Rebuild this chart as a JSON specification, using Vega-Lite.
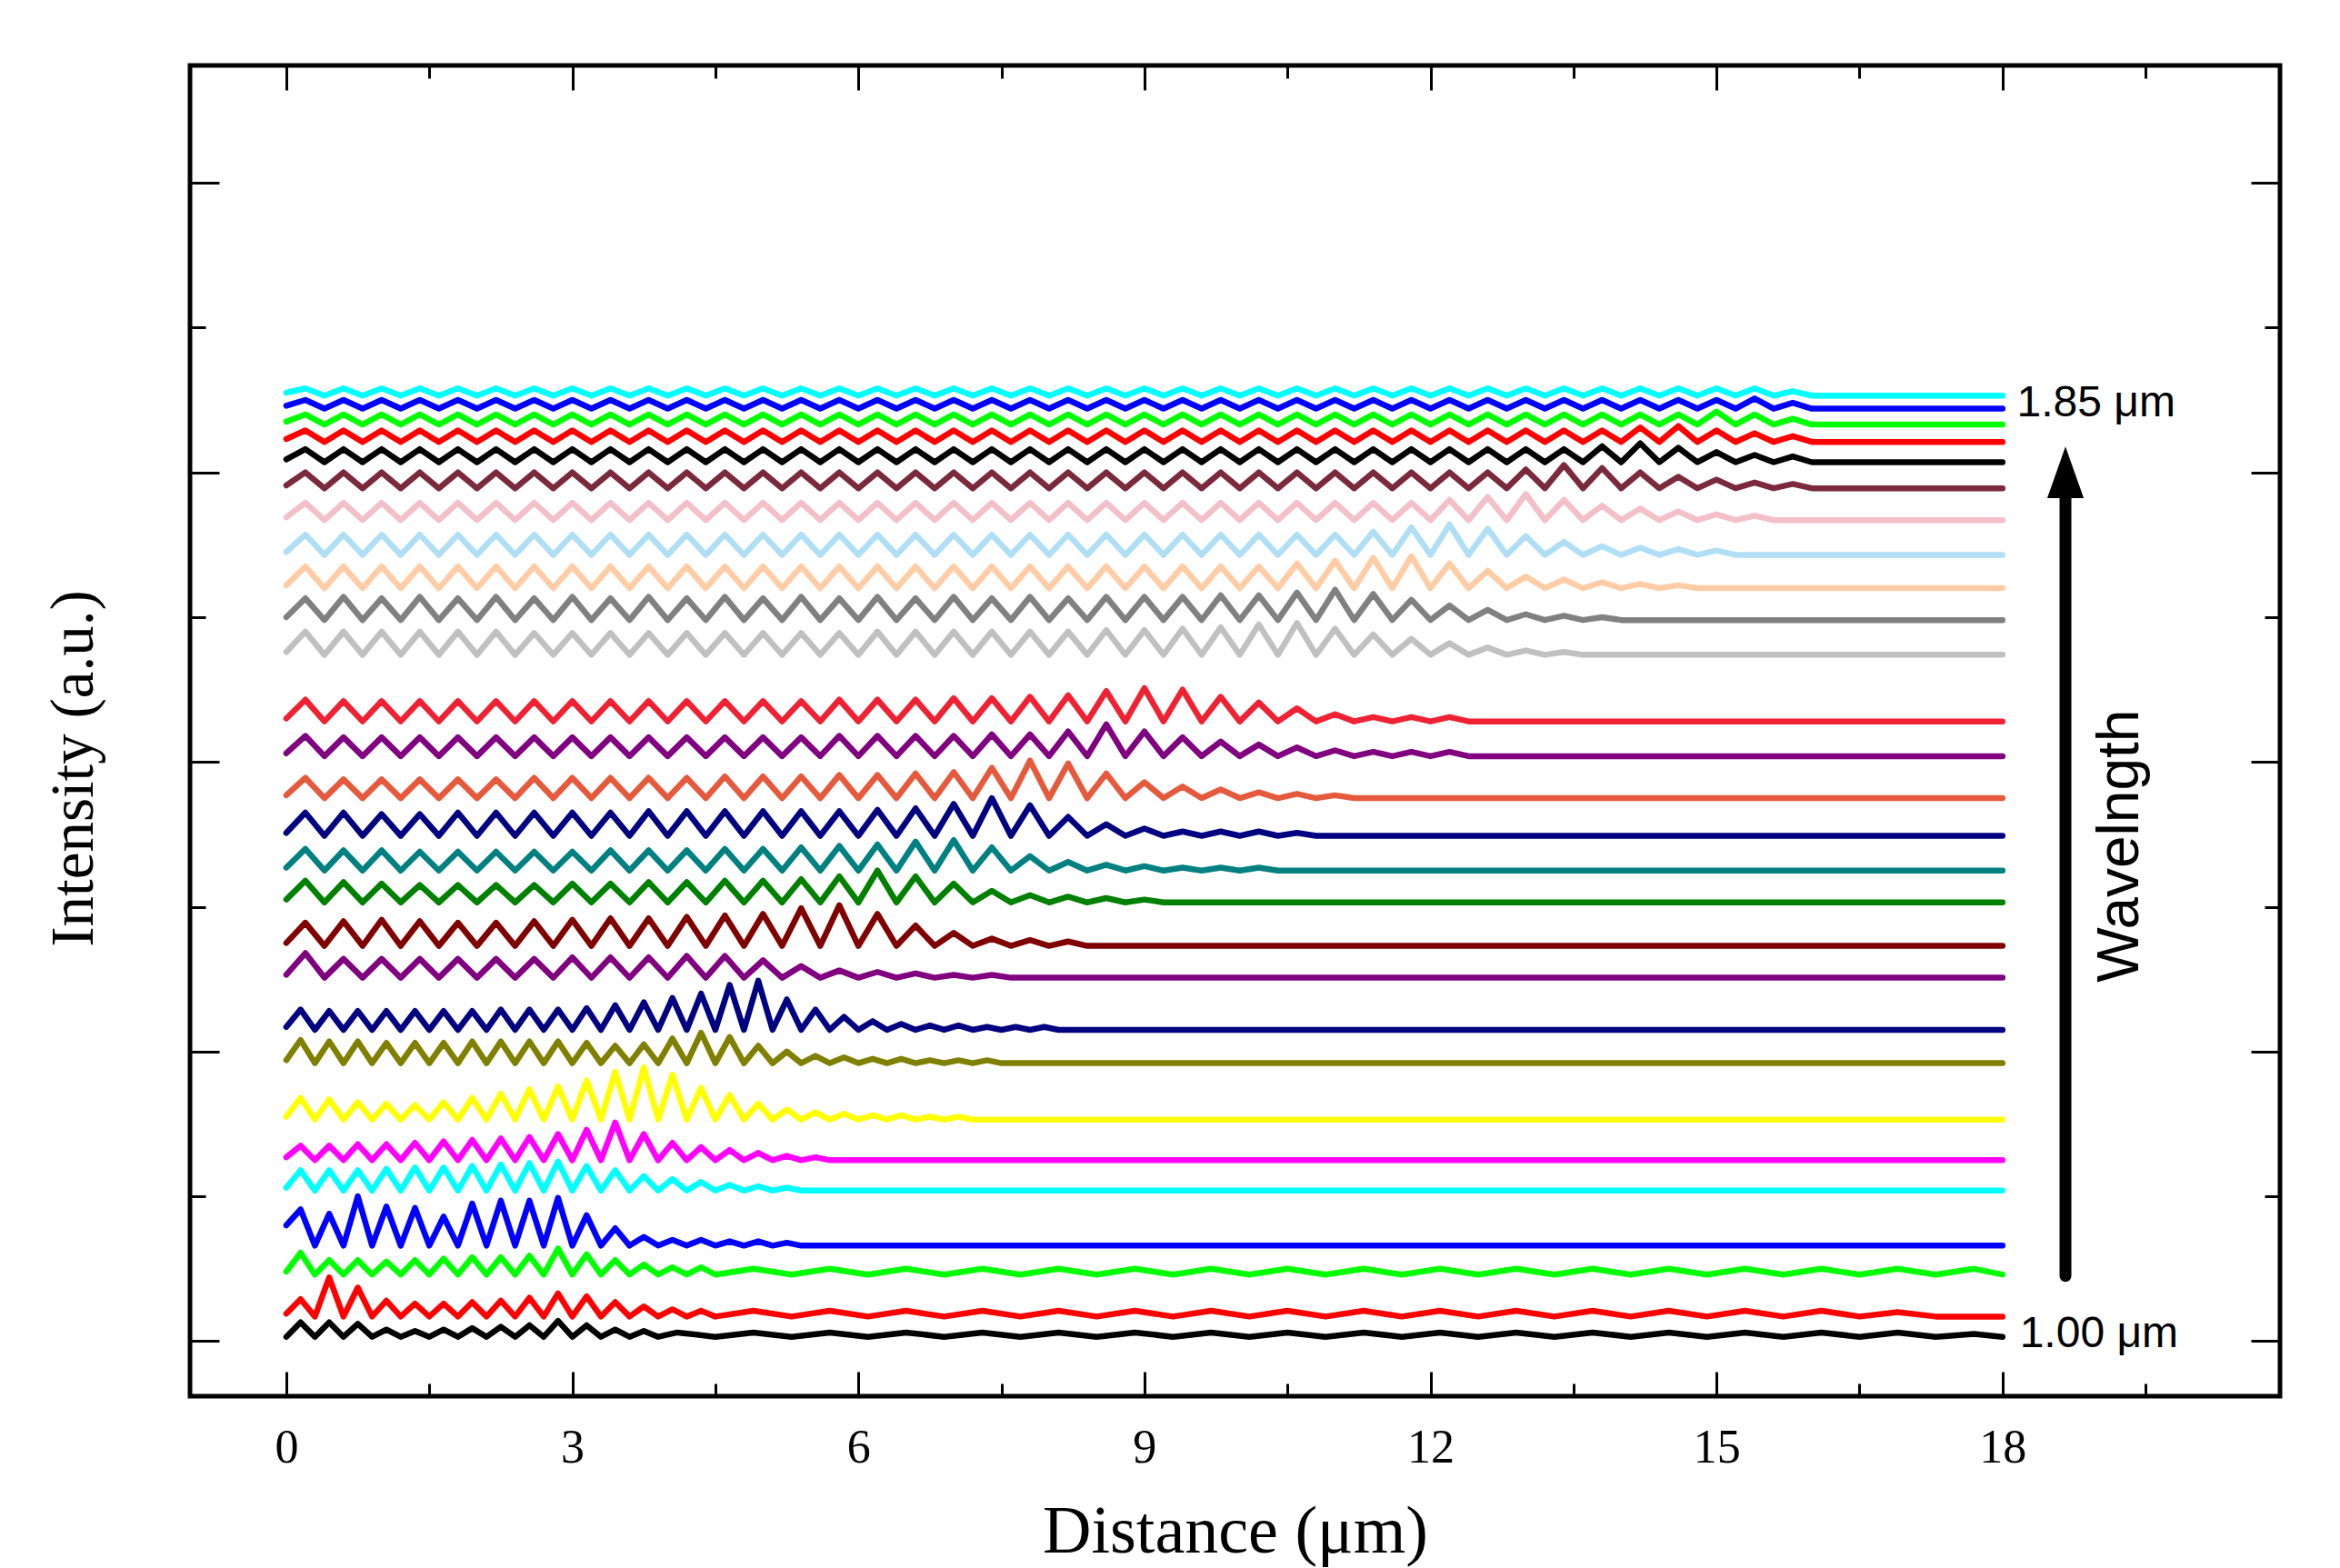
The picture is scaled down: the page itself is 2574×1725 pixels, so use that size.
{"$schema":"https://vega.github.io/schema/vega-lite/v6.json",
"width":2299,"height":1464,"autosize":{"type":"none"},"padding":{"left":209,"top":72,"right":66,"bottom":189},"background":"white",
"config":{"view":{"stroke":"black","strokeWidth":5},"axis":{"domain":false,"grid":false,"tickColor":"black","tickWidth":3,"labelFlush":false},"line":{"strokeWidth":6.5,"strokeJoin":"round","strokeCap":"round"}},
"encoding":{"x":{"field":"x","type":"quantitative","scale":{"domain":[-1.01,20.91],"nice":false,"zero":false},"axis":null},"y":{"field":"y","type":"quantitative","scale":{"domain":[-38,881],"nice":false,"zero":false},"axis":null}},
"resolve":{"axis":{"x":"independent","y":"independent"}},
"layer":[
{"data":{"values":[{"x":0,"y":3},{"x":0.15,"y":13},{"x":0.3,"y":3},{"x":0.45,"y":13},{"x":0.6,"y":3},{"x":0.75,"y":12},{"x":0.9,"y":3},{"x":1.05,"y":8},{"x":1.2,"y":3},{"x":1.35,"y":7},{"x":1.5,"y":3},{"x":1.65,"y":8},{"x":1.8,"y":3},{"x":1.95,"y":9},{"x":2.1,"y":3},{"x":2.25,"y":10},{"x":2.4,"y":3},{"x":2.55,"y":11},{"x":2.7,"y":3},{"x":2.85,"y":14},{"x":3,"y":3},{"x":3.15,"y":11},{"x":3.3,"y":3},{"x":3.45,"y":8},{"x":3.6,"y":3},{"x":3.75,"y":7},{"x":3.9,"y":3},{"x":4.1,"y":6},{"x":4.5,"y":3},{"x":4.9,"y":6},{"x":5.3,"y":3},{"x":5.7,"y":6},{"x":6.1,"y":3},{"x":6.5,"y":6},{"x":6.9,"y":3},{"x":7.3,"y":6},{"x":7.7,"y":3},{"x":8.1,"y":6},{"x":8.5,"y":3},{"x":8.9,"y":6},{"x":9.3,"y":3},{"x":9.7,"y":6},{"x":10.1,"y":3},{"x":10.5,"y":6},{"x":10.9,"y":3},{"x":11.3,"y":6},{"x":11.7,"y":3},{"x":12.1,"y":6},{"x":12.5,"y":3},{"x":12.9,"y":6},{"x":13.3,"y":3},{"x":13.7,"y":6},{"x":14.1,"y":3},{"x":14.5,"y":6},{"x":14.9,"y":3},{"x":15.3,"y":6},{"x":15.7,"y":3},{"x":16.1,"y":6},{"x":16.5,"y":3},{"x":16.9,"y":6},{"x":17.3,"y":3},{"x":17.7,"y":5},{"x":18,"y":3}]},
"mark":{"type":"line","color":"#000000"},
"encoding":{"x":{"field":"x","type":"quantitative","scale":{"domain":[-1.01,20.91],"nice":false,"zero":false},"axis":{"orient":"bottom","values":[0,3,6,9,12,15,18],"tickSize":-27,"labelPadding":58,"labelFont":"Liberation Serif","labelFontSize":52,"labelColor":"black","title":"Distance (μm)","titleFont":"Liberation Serif","titleFontSize":74,"titleFontWeight":"normal","titleColor":"black","titleY":171,"titleBaseline":"alphabetic"}},"y":{"field":"y","type":"quantitative","scale":{"domain":[-38,881],"nice":false,"zero":false},"axis":{"orient":"left","values":[0,200,400,600,800],"tickSize":-32,"labels":false,"title":"Intensity (a.u.)","titleFont":"Liberation Serif","titleFontSize":67,"titleFontWeight":"normal","titleColor":"black","titleX":-108,"titleY":773,"titleAngle":270,"titleAlign":"center","titleBaseline":"alphabetic"}}}},
{"data":{"values":[{"x":0,"y":19},{"x":0.15,"y":29},{"x":0.3,"y":17},{"x":0.45,"y":44},{"x":0.6,"y":17},{"x":0.75,"y":37},{"x":0.9,"y":17},{"x":1.05,"y":28},{"x":1.2,"y":17},{"x":1.35,"y":26},{"x":1.5,"y":17},{"x":1.65,"y":26},{"x":1.8,"y":17},{"x":1.95,"y":27},{"x":2.1,"y":17},{"x":2.25,"y":28},{"x":2.4,"y":17},{"x":2.55,"y":30},{"x":2.7,"y":17},{"x":2.85,"y":33},{"x":3,"y":17},{"x":3.15,"y":31},{"x":3.3,"y":17},{"x":3.45,"y":27},{"x":3.6,"y":17},{"x":3.75,"y":24},{"x":3.9,"y":17},{"x":4.05,"y":22},{"x":4.2,"y":17},{"x":4.35,"y":21},{"x":4.5,"y":17},{"x":4.9,"y":21},{"x":5.3,"y":17},{"x":5.7,"y":21},{"x":6.1,"y":17},{"x":6.5,"y":21},{"x":6.9,"y":17},{"x":7.3,"y":21},{"x":7.7,"y":17},{"x":8.1,"y":21},{"x":8.5,"y":17},{"x":8.9,"y":21},{"x":9.3,"y":17},{"x":9.7,"y":21},{"x":10.1,"y":17},{"x":10.5,"y":21},{"x":10.9,"y":17},{"x":11.3,"y":21},{"x":11.7,"y":17},{"x":12.1,"y":21},{"x":12.5,"y":17},{"x":12.9,"y":21},{"x":13.3,"y":17},{"x":13.7,"y":21},{"x":14.1,"y":17},{"x":14.5,"y":21},{"x":14.9,"y":17},{"x":15.3,"y":21},{"x":15.7,"y":17},{"x":16.1,"y":21},{"x":16.5,"y":17},{"x":16.9,"y":20},{"x":17.3,"y":17},{"x":18,"y":17}]},
"mark":{"type":"line","color":"#ff0000"},
"encoding":{"x":{"field":"x","type":"quantitative","scale":{"domain":[-1.01,20.91],"nice":false,"zero":false},"axis":{"orient":"bottom","values":[1.5,4.5,7.5,10.5,13.5,16.5,19.5],"tickSize":-14,"labels":false,"title":null}},"y":{"field":"y","type":"quantitative","scale":{"domain":[-38,881],"nice":false,"zero":false},"axis":{"orient":"left","values":[100,300,500,700],"tickSize":-17,"labels":false,"title":null}}}},
{"data":{"values":[{"x":0,"y":48},{"x":0.15,"y":61},{"x":0.3,"y":46},{"x":0.45,"y":56},{"x":0.6,"y":46},{"x":0.75,"y":56},{"x":0.9,"y":46},{"x":1.05,"y":55},{"x":1.2,"y":46},{"x":1.35,"y":56},{"x":1.5,"y":46},{"x":1.65,"y":57},{"x":1.8,"y":46},{"x":1.95,"y":58},{"x":2.1,"y":46},{"x":2.25,"y":58},{"x":2.4,"y":46},{"x":2.55,"y":59},{"x":2.7,"y":46},{"x":2.85,"y":64},{"x":3,"y":46},{"x":3.15,"y":60},{"x":3.3,"y":46},{"x":3.45,"y":56},{"x":3.6,"y":46},{"x":3.75,"y":53},{"x":3.9,"y":46},{"x":4.05,"y":51},{"x":4.2,"y":46},{"x":4.35,"y":51},{"x":4.5,"y":46},{"x":4.9,"y":50},{"x":5.3,"y":46},{"x":5.7,"y":50},{"x":6.1,"y":46},{"x":6.5,"y":50},{"x":6.9,"y":46},{"x":7.3,"y":50},{"x":7.7,"y":46},{"x":8.1,"y":50},{"x":8.5,"y":46},{"x":8.9,"y":50},{"x":9.3,"y":46},{"x":9.7,"y":50},{"x":10.1,"y":46},{"x":10.5,"y":50},{"x":10.9,"y":46},{"x":11.3,"y":50},{"x":11.7,"y":46},{"x":12.1,"y":50},{"x":12.5,"y":46},{"x":12.9,"y":50},{"x":13.3,"y":46},{"x":13.7,"y":50},{"x":14.1,"y":46},{"x":14.5,"y":50},{"x":14.9,"y":46},{"x":15.3,"y":50},{"x":15.7,"y":46},{"x":16.1,"y":50},{"x":16.5,"y":46},{"x":16.9,"y":50},{"x":17.3,"y":46},{"x":17.7,"y":50},{"x":18,"y":46}]},
"mark":{"type":"line","color":"#00ff00"},
"encoding":{"x":{"field":"x","type":"quantitative","scale":{"domain":[-1.01,20.91],"nice":false,"zero":false},"axis":{"orient":"top","values":[0,3,6,9,12,15,18],"tickSize":-27,"labels":false,"title":null}},"y":{"field":"y","type":"quantitative","scale":{"domain":[-38,881],"nice":false,"zero":false},"axis":{"orient":"right","values":[0,200,400,600,800],"tickSize":-32,"labels":false,"title":null}}}},
{"data":{"values":[{"x":0,"y":80},{"x":0.15,"y":91},{"x":0.3,"y":66},{"x":0.45,"y":88},{"x":0.6,"y":66},{"x":0.75,"y":100},{"x":0.9,"y":66},{"x":1.05,"y":93},{"x":1.2,"y":66},{"x":1.35,"y":92},{"x":1.5,"y":66},{"x":1.65,"y":86},{"x":1.8,"y":66},{"x":1.95,"y":95},{"x":2.1,"y":66},{"x":2.25,"y":97},{"x":2.4,"y":66},{"x":2.55,"y":97},{"x":2.7,"y":66},{"x":2.85,"y":99},{"x":3,"y":66},{"x":3.15,"y":87},{"x":3.3,"y":66},{"x":3.45,"y":78},{"x":3.6,"y":66},{"x":3.75,"y":72},{"x":3.9,"y":66},{"x":4.05,"y":70},{"x":4.2,"y":66},{"x":4.35,"y":70},{"x":4.5,"y":66},{"x":4.65,"y":69},{"x":4.8,"y":66},{"x":4.95,"y":69},{"x":5.1,"y":66},{"x":5.25,"y":68},{"x":5.4,"y":66},{"x":18,"y":66}]},
"mark":{"type":"line","color":"#0000ff"},
"encoding":{"x":{"field":"x","type":"quantitative","scale":{"domain":[-1.01,20.91],"nice":false,"zero":false},"axis":{"orient":"top","values":[1.5,4.5,7.5,10.5,13.5,16.5,19.5],"tickSize":-14,"labels":false,"title":null}},"y":{"field":"y","type":"quantitative","scale":{"domain":[-38,881],"nice":false,"zero":false},"axis":{"orient":"right","values":[100,300,500,700],"tickSize":-17,"labels":false,"title":null}}}},
{"data":{"values":[{"x":0,"y":106},{"x":0.15,"y":118},{"x":0.3,"y":104},{"x":0.45,"y":118},{"x":0.6,"y":104},{"x":0.75,"y":118},{"x":0.9,"y":104},{"x":1.05,"y":119},{"x":1.2,"y":104},{"x":1.35,"y":120},{"x":1.5,"y":104},{"x":1.65,"y":120},{"x":1.8,"y":104},{"x":1.95,"y":121},{"x":2.1,"y":104},{"x":2.25,"y":122},{"x":2.4,"y":104},{"x":2.55,"y":123},{"x":2.7,"y":104},{"x":2.85,"y":124},{"x":3,"y":104},{"x":3.15,"y":121},{"x":3.3,"y":104},{"x":3.45,"y":118},{"x":3.6,"y":104},{"x":3.75,"y":114},{"x":3.9,"y":104},{"x":4.05,"y":112},{"x":4.2,"y":104},{"x":4.35,"y":110},{"x":4.5,"y":104},{"x":4.65,"y":108},{"x":4.8,"y":104},{"x":4.95,"y":107},{"x":5.1,"y":104},{"x":5.25,"y":106},{"x":5.4,"y":104},{"x":18,"y":104}]},"mark":{"type":"line","color":"#00ffff"}},
{"data":{"values":[{"x":0,"y":127},{"x":0.15,"y":135},{"x":0.3,"y":125},{"x":0.45,"y":135},{"x":0.6,"y":125},{"x":0.75,"y":136},{"x":0.9,"y":125},{"x":1.05,"y":136},{"x":1.2,"y":125},{"x":1.35,"y":137},{"x":1.5,"y":125},{"x":1.65,"y":138},{"x":1.8,"y":125},{"x":1.95,"y":139},{"x":2.1,"y":125},{"x":2.25,"y":140},{"x":2.4,"y":125},{"x":2.55,"y":141},{"x":2.7,"y":125},{"x":2.85,"y":143},{"x":3,"y":125},{"x":3.15,"y":146},{"x":3.3,"y":125},{"x":3.45,"y":151},{"x":3.6,"y":125},{"x":3.75,"y":143},{"x":3.9,"y":125},{"x":4.05,"y":137},{"x":4.2,"y":125},{"x":4.35,"y":134},{"x":4.5,"y":125},{"x":4.65,"y":132},{"x":4.8,"y":125},{"x":4.95,"y":130},{"x":5.1,"y":125},{"x":5.25,"y":128},{"x":5.4,"y":125},{"x":5.55,"y":127},{"x":5.7,"y":125},{"x":18,"y":125}]},"mark":{"type":"line","color":"#ff00ff"}},
{"data":{"values":[{"x":0,"y":155},{"x":0.15,"y":168},{"x":0.3,"y":153},{"x":0.45,"y":167},{"x":0.6,"y":153},{"x":0.75,"y":165},{"x":0.9,"y":153},{"x":1.05,"y":164},{"x":1.2,"y":153},{"x":1.35,"y":163},{"x":1.5,"y":153},{"x":1.65,"y":165},{"x":1.8,"y":153},{"x":1.95,"y":168},{"x":2.1,"y":153},{"x":2.25,"y":171},{"x":2.4,"y":153},{"x":2.55,"y":174},{"x":2.7,"y":153},{"x":2.85,"y":176},{"x":3,"y":153},{"x":3.15,"y":180},{"x":3.3,"y":153},{"x":3.45,"y":186},{"x":3.6,"y":153},{"x":3.75,"y":189},{"x":3.9,"y":153},{"x":4.05,"y":184},{"x":4.2,"y":153},{"x":4.35,"y":175},{"x":4.5,"y":153},{"x":4.65,"y":170},{"x":4.8,"y":153},{"x":4.95,"y":164},{"x":5.1,"y":153},{"x":5.25,"y":160},{"x":5.4,"y":153},{"x":5.55,"y":158},{"x":5.7,"y":153},{"x":5.85,"y":157},{"x":6,"y":153},{"x":6.15,"y":156},{"x":6.3,"y":153},{"x":6.45,"y":156},{"x":6.6,"y":153},{"x":6.75,"y":155},{"x":6.9,"y":153},{"x":7.05,"y":155},{"x":7.2,"y":153},{"x":18,"y":153}]},"mark":{"type":"line","color":"#ffff00"}},
{"data":{"values":[{"x":0,"y":194},{"x":0.15,"y":208},{"x":0.3,"y":192},{"x":0.45,"y":207},{"x":0.6,"y":192},{"x":0.75,"y":207},{"x":0.9,"y":192},{"x":1.05,"y":206},{"x":1.2,"y":192},{"x":1.35,"y":206},{"x":1.5,"y":192},{"x":1.65,"y":206},{"x":1.8,"y":192},{"x":1.95,"y":207},{"x":2.1,"y":192},{"x":2.25,"y":207},{"x":2.4,"y":192},{"x":2.55,"y":207},{"x":2.7,"y":192},{"x":2.85,"y":207},{"x":3,"y":192},{"x":3.15,"y":206},{"x":3.3,"y":192},{"x":3.45,"y":204},{"x":3.6,"y":192},{"x":3.75,"y":205},{"x":3.9,"y":192},{"x":4.05,"y":209},{"x":4.2,"y":192},{"x":4.35,"y":213},{"x":4.5,"y":192},{"x":4.65,"y":210},{"x":4.8,"y":192},{"x":4.95,"y":204},{"x":5.1,"y":192},{"x":5.25,"y":200},{"x":5.4,"y":192},{"x":5.55,"y":197},{"x":5.7,"y":192},{"x":5.85,"y":196},{"x":6,"y":192},{"x":6.15,"y":195},{"x":6.3,"y":192},{"x":6.45,"y":195},{"x":6.6,"y":192},{"x":6.75,"y":194},{"x":6.9,"y":192},{"x":7.05,"y":194},{"x":7.2,"y":192},{"x":7.35,"y":194},{"x":7.5,"y":192},{"x":18,"y":192}]},"mark":{"type":"line","color":"#808000"}},
{"data":{"values":[{"x":0,"y":217},{"x":0.15,"y":229},{"x":0.3,"y":215},{"x":0.45,"y":228},{"x":0.6,"y":215},{"x":0.75,"y":228},{"x":0.9,"y":215},{"x":1.05,"y":228},{"x":1.2,"y":215},{"x":1.35,"y":228},{"x":1.5,"y":215},{"x":1.65,"y":228},{"x":1.8,"y":215},{"x":1.95,"y":228},{"x":2.1,"y":215},{"x":2.25,"y":229},{"x":2.4,"y":215},{"x":2.55,"y":229},{"x":2.7,"y":215},{"x":2.85,"y":229},{"x":3,"y":215},{"x":3.15,"y":230},{"x":3.3,"y":215},{"x":3.45,"y":232},{"x":3.6,"y":215},{"x":3.75,"y":234},{"x":3.9,"y":215},{"x":4.05,"y":237},{"x":4.2,"y":215},{"x":4.35,"y":240},{"x":4.5,"y":215},{"x":4.65,"y":246},{"x":4.8,"y":215},{"x":4.95,"y":249},{"x":5.1,"y":215},{"x":5.25,"y":236},{"x":5.4,"y":215},{"x":5.55,"y":229},{"x":5.7,"y":215},{"x":5.85,"y":224},{"x":6,"y":215},{"x":6.15,"y":221},{"x":6.3,"y":215},{"x":6.45,"y":219},{"x":6.6,"y":215},{"x":6.75,"y":218},{"x":6.9,"y":215},{"x":7.05,"y":218},{"x":7.2,"y":215},{"x":7.35,"y":217},{"x":7.5,"y":215},{"x":7.65,"y":217},{"x":7.8,"y":215},{"x":7.95,"y":217},{"x":8.1,"y":215},{"x":18,"y":215}]},"mark":{"type":"line","color":"#000080"}},
{"data":{"values":[{"x":0,"y":253},{"x":0.2,"y":268},{"x":0.4,"y":251},{"x":0.6,"y":264},{"x":0.8,"y":251},{"x":1,"y":264},{"x":1.2,"y":251},{"x":1.4,"y":264},{"x":1.6,"y":251},{"x":1.8,"y":264},{"x":2,"y":251},{"x":2.2,"y":264},{"x":2.4,"y":251},{"x":2.6,"y":264},{"x":2.8,"y":251},{"x":3,"y":265},{"x":3.2,"y":251},{"x":3.4,"y":265},{"x":3.6,"y":251},{"x":3.8,"y":265},{"x":4,"y":251},{"x":4.2,"y":266},{"x":4.4,"y":251},{"x":4.6,"y":266},{"x":4.8,"y":251},{"x":5,"y":263},{"x":5.2,"y":251},{"x":5.4,"y":259},{"x":5.6,"y":251},{"x":5.8,"y":256},{"x":6,"y":251},{"x":6.2,"y":255},{"x":6.4,"y":251},{"x":6.6,"y":254},{"x":6.8,"y":251},{"x":7,"y":253},{"x":7.2,"y":251},{"x":7.4,"y":253},{"x":7.6,"y":251},{"x":18,"y":251}]},"mark":{"type":"line","color":"#800080"}},
{"data":{"values":[{"x":0,"y":275},{"x":0.2,"y":289},{"x":0.4,"y":273},{"x":0.6,"y":290},{"x":0.8,"y":273},{"x":1,"y":291},{"x":1.2,"y":273},{"x":1.4,"y":290},{"x":1.6,"y":273},{"x":1.8,"y":289},{"x":2,"y":273},{"x":2.2,"y":289},{"x":2.4,"y":273},{"x":2.6,"y":290},{"x":2.8,"y":273},{"x":3,"y":291},{"x":3.2,"y":273},{"x":3.4,"y":292},{"x":3.6,"y":273},{"x":3.8,"y":292},{"x":4,"y":273},{"x":4.2,"y":293},{"x":4.4,"y":273},{"x":4.6,"y":294},{"x":4.8,"y":273},{"x":5,"y":295},{"x":5.2,"y":273},{"x":5.4,"y":299},{"x":5.6,"y":273},{"x":5.8,"y":301},{"x":6,"y":273},{"x":6.2,"y":295},{"x":6.4,"y":273},{"x":6.6,"y":287},{"x":6.8,"y":273},{"x":7,"y":282},{"x":7.2,"y":273},{"x":7.4,"y":278},{"x":7.6,"y":273},{"x":7.8,"y":277},{"x":8,"y":273},{"x":8.2,"y":276},{"x":8.4,"y":273},{"x":18,"y":273}]},"mark":{"type":"line","color":"#800000"}},
{"data":{"values":[{"x":0,"y":305},{"x":0.2,"y":318},{"x":0.4,"y":303},{"x":0.6,"y":317},{"x":0.8,"y":303},{"x":1,"y":316},{"x":1.2,"y":303},{"x":1.4,"y":315},{"x":1.6,"y":303},{"x":1.8,"y":315},{"x":2,"y":303},{"x":2.2,"y":315},{"x":2.4,"y":303},{"x":2.6,"y":315},{"x":2.8,"y":303},{"x":3,"y":316},{"x":3.2,"y":303},{"x":3.4,"y":316},{"x":3.6,"y":303},{"x":3.8,"y":317},{"x":4,"y":303},{"x":4.2,"y":317},{"x":4.4,"y":303},{"x":4.6,"y":318},{"x":4.8,"y":303},{"x":5,"y":318},{"x":5.2,"y":303},{"x":5.4,"y":319},{"x":5.6,"y":303},{"x":5.8,"y":321},{"x":6,"y":303},{"x":6.2,"y":325},{"x":6.4,"y":303},{"x":6.6,"y":321},{"x":6.8,"y":303},{"x":7,"y":316},{"x":7.2,"y":303},{"x":7.4,"y":311},{"x":7.6,"y":303},{"x":7.8,"y":308},{"x":8,"y":303},{"x":8.2,"y":307},{"x":8.4,"y":303},{"x":8.6,"y":306},{"x":8.8,"y":303},{"x":9,"y":305},{"x":9.2,"y":303},{"x":18,"y":303}]},"mark":{"type":"line","color":"#008000"}},
{"data":{"values":[{"x":0,"y":327},{"x":0.2,"y":340},{"x":0.4,"y":325},{"x":0.6,"y":339},{"x":0.8,"y":325},{"x":1,"y":339},{"x":1.2,"y":325},{"x":1.4,"y":338},{"x":1.6,"y":325},{"x":1.8,"y":338},{"x":2,"y":325},{"x":2.2,"y":338},{"x":2.4,"y":325},{"x":2.6,"y":338},{"x":2.8,"y":325},{"x":3,"y":338},{"x":3.2,"y":325},{"x":3.4,"y":339},{"x":3.6,"y":325},{"x":3.8,"y":339},{"x":4,"y":325},{"x":4.2,"y":339},{"x":4.4,"y":325},{"x":4.6,"y":340},{"x":4.8,"y":325},{"x":5,"y":340},{"x":5.2,"y":325},{"x":5.4,"y":341},{"x":5.6,"y":325},{"x":5.8,"y":342},{"x":6,"y":325},{"x":6.2,"y":343},{"x":6.4,"y":325},{"x":6.6,"y":345},{"x":6.8,"y":325},{"x":7,"y":346},{"x":7.2,"y":325},{"x":7.4,"y":341},{"x":7.6,"y":325},{"x":7.8,"y":335},{"x":8,"y":325},{"x":8.2,"y":331},{"x":8.4,"y":325},{"x":8.6,"y":329},{"x":8.8,"y":325},{"x":9,"y":328},{"x":9.2,"y":325},{"x":9.4,"y":327},{"x":9.6,"y":325},{"x":9.8,"y":327},{"x":10,"y":325},{"x":10.2,"y":327},{"x":10.4,"y":325},{"x":18,"y":325}]},"mark":{"type":"line","color":"#008080"}},
{"data":{"values":[{"x":0,"y":351},{"x":0.2,"y":365},{"x":0.4,"y":349},{"x":0.6,"y":365},{"x":0.8,"y":349},{"x":1,"y":364},{"x":1.2,"y":349},{"x":1.4,"y":364},{"x":1.6,"y":349},{"x":1.8,"y":365},{"x":2,"y":349},{"x":2.2,"y":365},{"x":2.4,"y":349},{"x":2.6,"y":365},{"x":2.8,"y":349},{"x":3,"y":365},{"x":3.2,"y":349},{"x":3.4,"y":365},{"x":3.6,"y":349},{"x":3.8,"y":366},{"x":4,"y":349},{"x":4.2,"y":366},{"x":4.4,"y":349},{"x":4.6,"y":366},{"x":4.8,"y":349},{"x":5,"y":366},{"x":5.2,"y":349},{"x":5.4,"y":366},{"x":5.6,"y":349},{"x":5.8,"y":366},{"x":6,"y":349},{"x":6.2,"y":367},{"x":6.4,"y":349},{"x":6.6,"y":368},{"x":6.8,"y":349},{"x":7,"y":371},{"x":7.2,"y":349},{"x":7.4,"y":375},{"x":7.6,"y":349},{"x":7.8,"y":370},{"x":8,"y":349},{"x":8.2,"y":362},{"x":8.4,"y":349},{"x":8.6,"y":357},{"x":8.8,"y":349},{"x":9,"y":354},{"x":9.2,"y":349},{"x":9.4,"y":352},{"x":9.6,"y":349},{"x":9.8,"y":352},{"x":10,"y":349},{"x":10.2,"y":352},{"x":10.4,"y":349},{"x":10.6,"y":351},{"x":10.8,"y":349},{"x":18,"y":349}]},"mark":{"type":"line","color":"#000080"}},
{"data":{"values":[{"x":0,"y":377},{"x":0.2,"y":389},{"x":0.4,"y":375},{"x":0.6,"y":388},{"x":0.8,"y":375},{"x":1,"y":388},{"x":1.2,"y":375},{"x":1.4,"y":388},{"x":1.6,"y":375},{"x":1.8,"y":388},{"x":2,"y":375},{"x":2.2,"y":388},{"x":2.4,"y":375},{"x":2.6,"y":389},{"x":2.8,"y":375},{"x":3,"y":389},{"x":3.2,"y":375},{"x":3.4,"y":389},{"x":3.6,"y":375},{"x":3.8,"y":389},{"x":4,"y":375},{"x":4.2,"y":389},{"x":4.4,"y":375},{"x":4.6,"y":390},{"x":4.8,"y":375},{"x":5,"y":390},{"x":5.2,"y":375},{"x":5.4,"y":390},{"x":5.6,"y":375},{"x":5.8,"y":391},{"x":6,"y":375},{"x":6.2,"y":391},{"x":6.4,"y":375},{"x":6.6,"y":392},{"x":6.8,"y":375},{"x":7,"y":393},{"x":7.2,"y":375},{"x":7.4,"y":396},{"x":7.6,"y":375},{"x":7.8,"y":401},{"x":8,"y":375},{"x":8.2,"y":399},{"x":8.4,"y":375},{"x":8.6,"y":392},{"x":8.8,"y":375},{"x":9,"y":386},{"x":9.2,"y":375},{"x":9.4,"y":383},{"x":9.6,"y":375},{"x":9.8,"y":381},{"x":10,"y":375},{"x":10.2,"y":379},{"x":10.4,"y":375},{"x":10.6,"y":378},{"x":10.8,"y":375},{"x":11,"y":377},{"x":11.2,"y":375},{"x":18,"y":375}]},"mark":{"type":"line","color":"#e55a3c"}},
{"data":{"values":[{"x":0,"y":406},{"x":0.2,"y":418},{"x":0.4,"y":404},{"x":0.6,"y":417},{"x":0.8,"y":404},{"x":1,"y":417},{"x":1.2,"y":404},{"x":1.4,"y":417},{"x":1.6,"y":404},{"x":1.8,"y":417},{"x":2,"y":404},{"x":2.2,"y":417},{"x":2.4,"y":404},{"x":2.6,"y":417},{"x":2.8,"y":404},{"x":3,"y":417},{"x":3.2,"y":404},{"x":3.4,"y":417},{"x":3.6,"y":404},{"x":3.8,"y":417},{"x":4,"y":404},{"x":4.2,"y":417},{"x":4.4,"y":404},{"x":4.6,"y":417},{"x":4.8,"y":404},{"x":5,"y":417},{"x":5.2,"y":404},{"x":5.4,"y":417},{"x":5.6,"y":404},{"x":5.8,"y":418},{"x":6,"y":404},{"x":6.2,"y":418},{"x":6.4,"y":404},{"x":6.6,"y":418},{"x":6.8,"y":404},{"x":7,"y":418},{"x":7.2,"y":404},{"x":7.4,"y":419},{"x":7.6,"y":404},{"x":7.8,"y":419},{"x":8,"y":404},{"x":8.2,"y":421},{"x":8.4,"y":404},{"x":8.6,"y":426},{"x":8.8,"y":404},{"x":9,"y":421},{"x":9.2,"y":404},{"x":9.4,"y":417},{"x":9.6,"y":404},{"x":9.8,"y":414},{"x":10,"y":404},{"x":10.2,"y":412},{"x":10.4,"y":404},{"x":10.6,"y":410},{"x":10.8,"y":404},{"x":11,"y":408},{"x":11.2,"y":404},{"x":11.4,"y":407},{"x":11.6,"y":404},{"x":11.8,"y":407},{"x":12,"y":404},{"x":12.2,"y":407},{"x":12.4,"y":404},{"x":18,"y":404}]},"mark":{"type":"line","color":"#800080"}},
{"data":{"values":[{"x":0,"y":430},{"x":0.2,"y":443},{"x":0.4,"y":428},{"x":0.6,"y":442},{"x":0.8,"y":428},{"x":1,"y":442},{"x":1.2,"y":428},{"x":1.4,"y":442},{"x":1.6,"y":428},{"x":1.8,"y":442},{"x":2,"y":428},{"x":2.2,"y":442},{"x":2.4,"y":428},{"x":2.6,"y":442},{"x":2.8,"y":428},{"x":3,"y":442},{"x":3.2,"y":428},{"x":3.4,"y":442},{"x":3.6,"y":428},{"x":3.8,"y":442},{"x":4,"y":428},{"x":4.2,"y":442},{"x":4.4,"y":428},{"x":4.6,"y":442},{"x":4.8,"y":428},{"x":5,"y":442},{"x":5.2,"y":428},{"x":5.4,"y":442},{"x":5.6,"y":428},{"x":5.8,"y":443},{"x":6,"y":428},{"x":6.2,"y":443},{"x":6.4,"y":428},{"x":6.6,"y":443},{"x":6.8,"y":428},{"x":7,"y":444},{"x":7.2,"y":428},{"x":7.4,"y":444},{"x":7.6,"y":428},{"x":7.8,"y":445},{"x":8,"y":428},{"x":8.2,"y":446},{"x":8.4,"y":428},{"x":8.6,"y":449},{"x":8.8,"y":428},{"x":9,"y":451},{"x":9.2,"y":428},{"x":9.4,"y":450},{"x":9.6,"y":428},{"x":9.8,"y":445},{"x":10,"y":428},{"x":10.2,"y":441},{"x":10.4,"y":428},{"x":10.6,"y":437},{"x":10.8,"y":428},{"x":11,"y":433},{"x":11.2,"y":428},{"x":11.4,"y":431},{"x":11.6,"y":428},{"x":11.8,"y":431},{"x":12,"y":428},{"x":12.2,"y":431},{"x":12.4,"y":428},{"x":18,"y":428}]},"mark":{"type":"line","color":"#ee2233"}},
{"data":{"values":[{"x":0,"y":476},{"x":0.2,"y":490},{"x":0.4,"y":474},{"x":0.6,"y":490},{"x":0.8,"y":474},{"x":1,"y":490},{"x":1.2,"y":474},{"x":1.4,"y":490},{"x":1.6,"y":474},{"x":1.8,"y":490},{"x":2,"y":474},{"x":2.2,"y":490},{"x":2.4,"y":474},{"x":2.6,"y":489},{"x":2.8,"y":474},{"x":3,"y":489},{"x":3.2,"y":474},{"x":3.4,"y":489},{"x":3.6,"y":474},{"x":3.8,"y":489},{"x":4,"y":474},{"x":4.2,"y":489},{"x":4.4,"y":474},{"x":4.6,"y":489},{"x":4.8,"y":474},{"x":5,"y":489},{"x":5.2,"y":474},{"x":5.4,"y":489},{"x":5.6,"y":474},{"x":5.8,"y":489},{"x":6,"y":474},{"x":6.2,"y":490},{"x":6.4,"y":474},{"x":6.6,"y":490},{"x":6.8,"y":474},{"x":7,"y":490},{"x":7.2,"y":474},{"x":7.4,"y":490},{"x":7.6,"y":474},{"x":7.8,"y":490},{"x":8,"y":474},{"x":8.2,"y":490},{"x":8.4,"y":474},{"x":8.6,"y":491},{"x":8.8,"y":474},{"x":9,"y":491},{"x":9.2,"y":474},{"x":9.4,"y":492},{"x":9.6,"y":474},{"x":9.8,"y":493},{"x":10,"y":474},{"x":10.2,"y":495},{"x":10.4,"y":474},{"x":10.6,"y":496},{"x":10.8,"y":474},{"x":11,"y":492},{"x":11.2,"y":474},{"x":11.4,"y":488},{"x":11.6,"y":474},{"x":11.8,"y":485},{"x":12,"y":474},{"x":12.2,"y":482},{"x":12.4,"y":474},{"x":12.6,"y":479},{"x":12.8,"y":474},{"x":13,"y":477},{"x":13.2,"y":474},{"x":13.4,"y":476},{"x":13.6,"y":474},{"x":18,"y":474}]},"mark":{"type":"line","color":"#c0c0c0"}},
{"data":{"values":[{"x":0,"y":500},{"x":0.2,"y":513},{"x":0.4,"y":498},{"x":0.6,"y":514},{"x":0.8,"y":498},{"x":1,"y":513},{"x":1.2,"y":498},{"x":1.4,"y":514},{"x":1.6,"y":498},{"x":1.8,"y":513},{"x":2,"y":498},{"x":2.2,"y":514},{"x":2.4,"y":498},{"x":2.6,"y":513},{"x":2.8,"y":498},{"x":3,"y":514},{"x":3.2,"y":498},{"x":3.4,"y":513},{"x":3.6,"y":498},{"x":3.8,"y":514},{"x":4,"y":498},{"x":4.2,"y":513},{"x":4.4,"y":498},{"x":4.6,"y":514},{"x":4.8,"y":498},{"x":5,"y":513},{"x":5.2,"y":498},{"x":5.4,"y":514},{"x":5.6,"y":498},{"x":5.8,"y":513},{"x":6,"y":498},{"x":6.2,"y":514},{"x":6.4,"y":498},{"x":6.6,"y":513},{"x":6.8,"y":498},{"x":7,"y":514},{"x":7.2,"y":498},{"x":7.4,"y":513},{"x":7.6,"y":498},{"x":7.8,"y":514},{"x":8,"y":498},{"x":8.2,"y":513},{"x":8.4,"y":498},{"x":8.6,"y":514},{"x":8.8,"y":498},{"x":9,"y":514},{"x":9.2,"y":498},{"x":9.4,"y":514},{"x":9.6,"y":498},{"x":9.8,"y":515},{"x":10,"y":498},{"x":10.2,"y":515},{"x":10.4,"y":498},{"x":10.6,"y":517},{"x":10.8,"y":498},{"x":11,"y":519},{"x":11.2,"y":498},{"x":11.4,"y":516},{"x":11.6,"y":498},{"x":11.8,"y":512},{"x":12,"y":498},{"x":12.2,"y":508},{"x":12.4,"y":498},{"x":12.6,"y":505},{"x":12.8,"y":498},{"x":13,"y":502},{"x":13.2,"y":498},{"x":13.4,"y":501},{"x":13.6,"y":498},{"x":13.8,"y":500},{"x":14,"y":498},{"x":18,"y":498}]},"mark":{"type":"line","color":"#808080"}},
{"data":{"values":[{"x":0,"y":522},{"x":0.2,"y":535},{"x":0.4,"y":520},{"x":0.6,"y":535},{"x":0.8,"y":520},{"x":1,"y":535},{"x":1.2,"y":520},{"x":1.4,"y":535},{"x":1.6,"y":520},{"x":1.8,"y":535},{"x":2,"y":520},{"x":2.2,"y":535},{"x":2.4,"y":520},{"x":2.6,"y":535},{"x":2.8,"y":520},{"x":3,"y":535},{"x":3.2,"y":520},{"x":3.4,"y":535},{"x":3.6,"y":520},{"x":3.8,"y":535},{"x":4,"y":520},{"x":4.2,"y":535},{"x":4.4,"y":520},{"x":4.6,"y":535},{"x":4.8,"y":520},{"x":5,"y":535},{"x":5.2,"y":520},{"x":5.4,"y":535},{"x":5.6,"y":520},{"x":5.8,"y":535},{"x":6,"y":520},{"x":6.2,"y":535},{"x":6.4,"y":520},{"x":6.6,"y":535},{"x":6.8,"y":520},{"x":7,"y":535},{"x":7.2,"y":520},{"x":7.4,"y":535},{"x":7.6,"y":520},{"x":7.8,"y":535},{"x":8,"y":520},{"x":8.2,"y":535},{"x":8.4,"y":520},{"x":8.6,"y":535},{"x":8.8,"y":520},{"x":9,"y":535},{"x":9.2,"y":520},{"x":9.4,"y":535},{"x":9.6,"y":520},{"x":9.8,"y":535},{"x":10,"y":520},{"x":10.2,"y":535},{"x":10.4,"y":520},{"x":10.6,"y":537},{"x":10.8,"y":520},{"x":11,"y":539},{"x":11.2,"y":520},{"x":11.4,"y":541},{"x":11.6,"y":520},{"x":11.8,"y":542},{"x":12,"y":520},{"x":12.2,"y":537},{"x":12.4,"y":520},{"x":12.6,"y":532},{"x":12.8,"y":520},{"x":13,"y":528},{"x":13.2,"y":520},{"x":13.4,"y":526},{"x":13.6,"y":520},{"x":13.8,"y":524},{"x":14,"y":520},{"x":14.2,"y":523},{"x":14.4,"y":520},{"x":14.6,"y":522},{"x":14.8,"y":520},{"x":18,"y":520}]},"mark":{"type":"line","color":"#ffcca6"}},
{"data":{"values":[{"x":0,"y":545},{"x":0.2,"y":557},{"x":0.4,"y":543},{"x":0.6,"y":557},{"x":0.8,"y":543},{"x":1,"y":557},{"x":1.2,"y":543},{"x":1.4,"y":557},{"x":1.6,"y":543},{"x":1.8,"y":557},{"x":2,"y":543},{"x":2.2,"y":557},{"x":2.4,"y":543},{"x":2.6,"y":557},{"x":2.8,"y":543},{"x":3,"y":557},{"x":3.2,"y":543},{"x":3.4,"y":557},{"x":3.6,"y":543},{"x":3.8,"y":557},{"x":4,"y":543},{"x":4.2,"y":557},{"x":4.4,"y":543},{"x":4.6,"y":557},{"x":4.8,"y":543},{"x":5,"y":557},{"x":5.2,"y":543},{"x":5.4,"y":557},{"x":5.6,"y":543},{"x":5.8,"y":557},{"x":6,"y":543},{"x":6.2,"y":557},{"x":6.4,"y":543},{"x":6.6,"y":557},{"x":6.8,"y":543},{"x":7,"y":557},{"x":7.2,"y":543},{"x":7.4,"y":557},{"x":7.6,"y":543},{"x":7.8,"y":557},{"x":8,"y":543},{"x":8.2,"y":557},{"x":8.4,"y":543},{"x":8.6,"y":557},{"x":8.8,"y":543},{"x":9,"y":557},{"x":9.2,"y":543},{"x":9.4,"y":557},{"x":9.6,"y":543},{"x":9.8,"y":557},{"x":10,"y":543},{"x":10.2,"y":557},{"x":10.4,"y":543},{"x":10.6,"y":557},{"x":10.8,"y":543},{"x":11,"y":557},{"x":11.2,"y":543},{"x":11.4,"y":559},{"x":11.6,"y":543},{"x":11.8,"y":562},{"x":12,"y":543},{"x":12.2,"y":564},{"x":12.4,"y":543},{"x":12.6,"y":561},{"x":12.8,"y":543},{"x":13,"y":556},{"x":13.2,"y":543},{"x":13.4,"y":552},{"x":13.6,"y":543},{"x":13.8,"y":549},{"x":14,"y":543},{"x":14.2,"y":548},{"x":14.4,"y":543},{"x":14.6,"y":547},{"x":14.8,"y":543},{"x":15,"y":546},{"x":15.2,"y":543},{"x":18,"y":543}]},"mark":{"type":"line","color":"#b0dff5"}},
{"data":{"values":[{"x":0,"y":569},{"x":0.2,"y":579},{"x":0.4,"y":567},{"x":0.6,"y":579},{"x":0.8,"y":567},{"x":1,"y":579},{"x":1.2,"y":567},{"x":1.4,"y":579},{"x":1.6,"y":567},{"x":1.8,"y":579},{"x":2,"y":567},{"x":2.2,"y":579},{"x":2.4,"y":567},{"x":2.6,"y":579},{"x":2.8,"y":567},{"x":3,"y":579},{"x":3.2,"y":567},{"x":3.4,"y":579},{"x":3.6,"y":567},{"x":3.8,"y":579},{"x":4,"y":567},{"x":4.2,"y":579},{"x":4.4,"y":567},{"x":4.6,"y":579},{"x":4.8,"y":567},{"x":5,"y":579},{"x":5.2,"y":567},{"x":5.4,"y":579},{"x":5.6,"y":567},{"x":5.8,"y":579},{"x":6,"y":567},{"x":6.2,"y":579},{"x":6.4,"y":567},{"x":6.6,"y":579},{"x":6.8,"y":567},{"x":7,"y":579},{"x":7.2,"y":567},{"x":7.4,"y":579},{"x":7.6,"y":567},{"x":7.8,"y":579},{"x":8,"y":567},{"x":8.2,"y":579},{"x":8.4,"y":567},{"x":8.6,"y":579},{"x":8.8,"y":567},{"x":9,"y":579},{"x":9.2,"y":567},{"x":9.4,"y":579},{"x":9.6,"y":567},{"x":9.8,"y":579},{"x":10,"y":567},{"x":10.2,"y":579},{"x":10.4,"y":567},{"x":10.6,"y":579},{"x":10.8,"y":567},{"x":11,"y":579},{"x":11.2,"y":567},{"x":11.4,"y":579},{"x":11.6,"y":567},{"x":11.8,"y":579},{"x":12,"y":567},{"x":12.2,"y":581},{"x":12.4,"y":567},{"x":12.6,"y":583},{"x":12.8,"y":567},{"x":13,"y":585},{"x":13.2,"y":567},{"x":13.4,"y":581},{"x":13.6,"y":567},{"x":13.8,"y":577},{"x":14,"y":567},{"x":14.2,"y":575},{"x":14.4,"y":567},{"x":14.6,"y":573},{"x":14.8,"y":567},{"x":15,"y":571},{"x":15.2,"y":567},{"x":15.4,"y":570},{"x":15.6,"y":567},{"x":18,"y":567}]},"mark":{"type":"line","color":"#f3bfc8"}},
{"data":{"values":[{"x":0,"y":591},{"x":0.2,"y":600},{"x":0.4,"y":589},{"x":0.6,"y":600},{"x":0.8,"y":589},{"x":1,"y":600},{"x":1.2,"y":589},{"x":1.4,"y":600},{"x":1.6,"y":589},{"x":1.8,"y":600},{"x":2,"y":589},{"x":2.2,"y":600},{"x":2.4,"y":589},{"x":2.6,"y":600},{"x":2.8,"y":589},{"x":3,"y":600},{"x":3.2,"y":589},{"x":3.4,"y":600},{"x":3.6,"y":589},{"x":3.8,"y":600},{"x":4,"y":589},{"x":4.2,"y":600},{"x":4.4,"y":589},{"x":4.6,"y":600},{"x":4.8,"y":589},{"x":5,"y":600},{"x":5.2,"y":589},{"x":5.4,"y":600},{"x":5.6,"y":589},{"x":5.8,"y":600},{"x":6,"y":589},{"x":6.2,"y":600},{"x":6.4,"y":589},{"x":6.6,"y":600},{"x":6.8,"y":589},{"x":7,"y":600},{"x":7.2,"y":589},{"x":7.4,"y":600},{"x":7.6,"y":589},{"x":7.8,"y":600},{"x":8,"y":589},{"x":8.2,"y":600},{"x":8.4,"y":589},{"x":8.6,"y":600},{"x":8.8,"y":589},{"x":9,"y":600},{"x":9.2,"y":589},{"x":9.4,"y":600},{"x":9.6,"y":589},{"x":9.8,"y":600},{"x":10,"y":589},{"x":10.2,"y":600},{"x":10.4,"y":589},{"x":10.6,"y":600},{"x":10.8,"y":589},{"x":11,"y":600},{"x":11.2,"y":589},{"x":11.4,"y":600},{"x":11.6,"y":589},{"x":11.8,"y":600},{"x":12,"y":589},{"x":12.2,"y":600},{"x":12.4,"y":589},{"x":12.6,"y":600},{"x":12.8,"y":589},{"x":13,"y":602},{"x":13.2,"y":589},{"x":13.4,"y":605},{"x":13.6,"y":589},{"x":13.8,"y":603},{"x":14,"y":589},{"x":14.2,"y":600},{"x":14.4,"y":589},{"x":14.6,"y":597},{"x":14.8,"y":589},{"x":15,"y":595},{"x":15.2,"y":589},{"x":15.4,"y":593},{"x":15.6,"y":589},{"x":15.8,"y":592},{"x":16,"y":589},{"x":18,"y":589}]},"mark":{"type":"line","color":"#7b2a3d"}},
{"data":{"values":[{"x":0,"y":609},{"x":0.2,"y":616},{"x":0.4,"y":607},{"x":0.6,"y":616},{"x":0.8,"y":607},{"x":1,"y":616},{"x":1.2,"y":607},{"x":1.4,"y":616},{"x":1.6,"y":607},{"x":1.8,"y":616},{"x":2,"y":607},{"x":2.2,"y":616},{"x":2.4,"y":607},{"x":2.6,"y":616},{"x":2.8,"y":607},{"x":3,"y":616},{"x":3.2,"y":607},{"x":3.4,"y":616},{"x":3.6,"y":607},{"x":3.8,"y":616},{"x":4,"y":607},{"x":4.2,"y":616},{"x":4.4,"y":607},{"x":4.6,"y":616},{"x":4.8,"y":607},{"x":5,"y":616},{"x":5.2,"y":607},{"x":5.4,"y":616},{"x":5.6,"y":607},{"x":5.8,"y":616},{"x":6,"y":607},{"x":6.2,"y":616},{"x":6.4,"y":607},{"x":6.6,"y":616},{"x":6.8,"y":607},{"x":7,"y":616},{"x":7.2,"y":607},{"x":7.4,"y":616},{"x":7.6,"y":607},{"x":7.8,"y":616},{"x":8,"y":607},{"x":8.2,"y":616},{"x":8.4,"y":607},{"x":8.6,"y":616},{"x":8.8,"y":607},{"x":9,"y":616},{"x":9.2,"y":607},{"x":9.4,"y":616},{"x":9.6,"y":607},{"x":9.8,"y":616},{"x":10,"y":607},{"x":10.2,"y":616},{"x":10.4,"y":607},{"x":10.6,"y":616},{"x":10.8,"y":607},{"x":11,"y":616},{"x":11.2,"y":607},{"x":11.4,"y":616},{"x":11.6,"y":607},{"x":11.8,"y":616},{"x":12,"y":607},{"x":12.2,"y":616},{"x":12.4,"y":607},{"x":12.6,"y":616},{"x":12.8,"y":607},{"x":13,"y":616},{"x":13.2,"y":607},{"x":13.4,"y":616},{"x":13.6,"y":607},{"x":13.8,"y":618},{"x":14,"y":607},{"x":14.2,"y":620},{"x":14.4,"y":607},{"x":14.6,"y":617},{"x":14.8,"y":607},{"x":15,"y":614},{"x":15.2,"y":607},{"x":15.4,"y":612},{"x":15.6,"y":607},{"x":15.8,"y":611},{"x":16,"y":607},{"x":18,"y":607}]},"mark":{"type":"line","color":"#000000"}},
{"data":{"values":[{"x":0,"y":623},{"x":0.2,"y":629},{"x":0.4,"y":621},{"x":0.6,"y":629},{"x":0.8,"y":621},{"x":1,"y":629},{"x":1.2,"y":621},{"x":1.4,"y":629},{"x":1.6,"y":621},{"x":1.8,"y":629},{"x":2,"y":621},{"x":2.2,"y":629},{"x":2.4,"y":621},{"x":2.6,"y":629},{"x":2.8,"y":621},{"x":3,"y":629},{"x":3.2,"y":621},{"x":3.4,"y":629},{"x":3.6,"y":621},{"x":3.8,"y":629},{"x":4,"y":621},{"x":4.2,"y":629},{"x":4.4,"y":621},{"x":4.6,"y":629},{"x":4.8,"y":621},{"x":5,"y":629},{"x":5.2,"y":621},{"x":5.4,"y":629},{"x":5.6,"y":621},{"x":5.8,"y":629},{"x":6,"y":621},{"x":6.2,"y":629},{"x":6.4,"y":621},{"x":6.6,"y":629},{"x":6.8,"y":621},{"x":7,"y":629},{"x":7.2,"y":621},{"x":7.4,"y":629},{"x":7.6,"y":621},{"x":7.8,"y":629},{"x":8,"y":621},{"x":8.2,"y":629},{"x":8.4,"y":621},{"x":8.6,"y":629},{"x":8.8,"y":621},{"x":9,"y":629},{"x":9.2,"y":621},{"x":9.4,"y":629},{"x":9.6,"y":621},{"x":9.8,"y":629},{"x":10,"y":621},{"x":10.2,"y":629},{"x":10.4,"y":621},{"x":10.6,"y":629},{"x":10.8,"y":621},{"x":11,"y":629},{"x":11.2,"y":621},{"x":11.4,"y":629},{"x":11.6,"y":621},{"x":11.8,"y":629},{"x":12,"y":621},{"x":12.2,"y":629},{"x":12.4,"y":621},{"x":12.6,"y":629},{"x":12.8,"y":621},{"x":13,"y":629},{"x":13.2,"y":621},{"x":13.4,"y":629},{"x":13.6,"y":621},{"x":13.8,"y":629},{"x":14,"y":621},{"x":14.2,"y":631},{"x":14.4,"y":621},{"x":14.6,"y":632},{"x":14.8,"y":621},{"x":15,"y":629},{"x":15.2,"y":621},{"x":15.4,"y":627},{"x":15.6,"y":621},{"x":15.8,"y":625},{"x":16,"y":621},{"x":18,"y":621}]},"mark":{"type":"line","color":"#ff0000"}},
{"data":{"values":[{"x":0,"y":635},{"x":0.2,"y":640},{"x":0.4,"y":633},{"x":0.6,"y":640},{"x":0.8,"y":633},{"x":1,"y":640},{"x":1.2,"y":633},{"x":1.4,"y":640},{"x":1.6,"y":633},{"x":1.8,"y":640},{"x":2,"y":633},{"x":2.2,"y":640},{"x":2.4,"y":633},{"x":2.6,"y":640},{"x":2.8,"y":633},{"x":3,"y":640},{"x":3.2,"y":633},{"x":3.4,"y":640},{"x":3.6,"y":633},{"x":3.8,"y":640},{"x":4,"y":633},{"x":4.2,"y":640},{"x":4.4,"y":633},{"x":4.6,"y":640},{"x":4.8,"y":633},{"x":5,"y":640},{"x":5.2,"y":633},{"x":5.4,"y":640},{"x":5.6,"y":633},{"x":5.8,"y":640},{"x":6,"y":633},{"x":6.2,"y":640},{"x":6.4,"y":633},{"x":6.6,"y":640},{"x":6.8,"y":633},{"x":7,"y":640},{"x":7.2,"y":633},{"x":7.4,"y":640},{"x":7.6,"y":633},{"x":7.8,"y":640},{"x":8,"y":633},{"x":8.2,"y":640},{"x":8.4,"y":633},{"x":8.6,"y":640},{"x":8.8,"y":633},{"x":9,"y":640},{"x":9.2,"y":633},{"x":9.4,"y":640},{"x":9.6,"y":633},{"x":9.8,"y":640},{"x":10,"y":633},{"x":10.2,"y":640},{"x":10.4,"y":633},{"x":10.6,"y":640},{"x":10.8,"y":633},{"x":11,"y":640},{"x":11.2,"y":633},{"x":11.4,"y":640},{"x":11.6,"y":633},{"x":11.8,"y":640},{"x":12,"y":633},{"x":12.2,"y":640},{"x":12.4,"y":633},{"x":12.6,"y":640},{"x":12.8,"y":633},{"x":13,"y":640},{"x":13.2,"y":633},{"x":13.4,"y":640},{"x":13.6,"y":633},{"x":13.8,"y":640},{"x":14,"y":633},{"x":14.2,"y":640},{"x":14.4,"y":633},{"x":14.6,"y":640},{"x":14.8,"y":633},{"x":15,"y":642},{"x":15.2,"y":633},{"x":15.4,"y":640},{"x":15.6,"y":633},{"x":15.8,"y":637},{"x":16,"y":633},{"x":18,"y":633}]},"mark":{"type":"line","color":"#00ff00"}},
{"data":{"values":[{"x":0,"y":646},{"x":0.2,"y":650},{"x":0.4,"y":644},{"x":0.6,"y":650},{"x":0.8,"y":644},{"x":1,"y":650},{"x":1.2,"y":644},{"x":1.4,"y":650},{"x":1.6,"y":644},{"x":1.8,"y":650},{"x":2,"y":644},{"x":2.2,"y":650},{"x":2.4,"y":644},{"x":2.6,"y":650},{"x":2.8,"y":644},{"x":3,"y":650},{"x":3.2,"y":644},{"x":3.4,"y":650},{"x":3.6,"y":644},{"x":3.8,"y":650},{"x":4,"y":644},{"x":4.2,"y":650},{"x":4.4,"y":644},{"x":4.6,"y":650},{"x":4.8,"y":644},{"x":5,"y":650},{"x":5.2,"y":644},{"x":5.4,"y":650},{"x":5.6,"y":644},{"x":5.8,"y":650},{"x":6,"y":644},{"x":6.2,"y":650},{"x":6.4,"y":644},{"x":6.6,"y":650},{"x":6.8,"y":644},{"x":7,"y":650},{"x":7.2,"y":644},{"x":7.4,"y":650},{"x":7.6,"y":644},{"x":7.8,"y":650},{"x":8,"y":644},{"x":8.2,"y":650},{"x":8.4,"y":644},{"x":8.6,"y":650},{"x":8.8,"y":644},{"x":9,"y":650},{"x":9.2,"y":644},{"x":9.4,"y":650},{"x":9.6,"y":644},{"x":9.8,"y":650},{"x":10,"y":644},{"x":10.2,"y":650},{"x":10.4,"y":644},{"x":10.6,"y":650},{"x":10.8,"y":644},{"x":11,"y":650},{"x":11.2,"y":644},{"x":11.4,"y":650},{"x":11.6,"y":644},{"x":11.8,"y":650},{"x":12,"y":644},{"x":12.2,"y":650},{"x":12.4,"y":644},{"x":12.6,"y":650},{"x":12.8,"y":644},{"x":13,"y":650},{"x":13.2,"y":644},{"x":13.4,"y":650},{"x":13.6,"y":644},{"x":13.8,"y":650},{"x":14,"y":644},{"x":14.2,"y":650},{"x":14.4,"y":644},{"x":14.6,"y":650},{"x":14.8,"y":644},{"x":15,"y":650},{"x":15.2,"y":644},{"x":15.4,"y":651},{"x":15.6,"y":644},{"x":15.8,"y":648},{"x":16,"y":644},{"x":18,"y":644}]},"mark":{"type":"line","color":"#0000ff"}},
{"data":{"values":[{"x":0,"y":655},{"x":0.2,"y":658},{"x":0.4,"y":653},{"x":0.6,"y":658},{"x":0.8,"y":653},{"x":1,"y":658},{"x":1.2,"y":653},{"x":1.4,"y":658},{"x":1.6,"y":653},{"x":1.8,"y":658},{"x":2,"y":653},{"x":2.2,"y":658},{"x":2.4,"y":653},{"x":2.6,"y":658},{"x":2.8,"y":653},{"x":3,"y":658},{"x":3.2,"y":653},{"x":3.4,"y":658},{"x":3.6,"y":653},{"x":3.8,"y":658},{"x":4,"y":653},{"x":4.2,"y":658},{"x":4.4,"y":653},{"x":4.6,"y":658},{"x":4.8,"y":653},{"x":5,"y":658},{"x":5.2,"y":653},{"x":5.4,"y":658},{"x":5.6,"y":653},{"x":5.8,"y":658},{"x":6,"y":653},{"x":6.2,"y":658},{"x":6.4,"y":653},{"x":6.6,"y":658},{"x":6.8,"y":653},{"x":7,"y":658},{"x":7.2,"y":653},{"x":7.4,"y":658},{"x":7.6,"y":653},{"x":7.8,"y":658},{"x":8,"y":653},{"x":8.2,"y":658},{"x":8.4,"y":653},{"x":8.6,"y":658},{"x":8.8,"y":653},{"x":9,"y":658},{"x":9.2,"y":653},{"x":9.4,"y":658},{"x":9.6,"y":653},{"x":9.8,"y":658},{"x":10,"y":653},{"x":10.2,"y":658},{"x":10.4,"y":653},{"x":10.6,"y":658},{"x":10.8,"y":653},{"x":11,"y":658},{"x":11.2,"y":653},{"x":11.4,"y":658},{"x":11.6,"y":653},{"x":11.8,"y":658},{"x":12,"y":653},{"x":12.2,"y":658},{"x":12.4,"y":653},{"x":12.6,"y":658},{"x":12.8,"y":653},{"x":13,"y":658},{"x":13.2,"y":653},{"x":13.4,"y":658},{"x":13.6,"y":653},{"x":13.8,"y":658},{"x":14,"y":653},{"x":14.2,"y":658},{"x":14.4,"y":653},{"x":14.6,"y":658},{"x":14.8,"y":653},{"x":15,"y":658},{"x":15.2,"y":653},{"x":15.4,"y":658},{"x":15.6,"y":653},{"x":15.8,"y":656},{"x":16,"y":653},{"x":18,"y":653}]},"mark":{"type":"line","color":"#00ffff"}},
{"data":{"values":[{"x":18.15,"y":639,"t":"1.85 μm"},{"x":18.18,"y":-4,"t":"1.00 μm"}]},"mark":{"type":"text","font":"Liberation Sans","fontSize":48,"align":"left","baseline":"alphabetic","color":"black"},"encoding":{"text":{"field":"t"}}},
{"data":{"values":[{"x":19.42,"y":342,"t":"Wavelngth"}]},"mark":{"type":"text","font":"Liberation Sans","fontSize":64,"align":"center","baseline":"alphabetic","angle":270,"color":"black"},"encoding":{"text":{"field":"t"}}},
{"data":{"values":[{"x":18.66,"y":45,"y2":585}]},"mark":{"type":"rule","strokeWidth":13,"strokeCap":"round","color":"black"},"encoding":{"y2":{"field":"y2"}}},
{"data":{"values":[{"x":18.66,"y":600}]},"mark":{"type":"point","shape":"M0,-1L0.71,1L-0.71,1Z","size":3200,"filled":true,"color":"black","opacity":1}}
]}
